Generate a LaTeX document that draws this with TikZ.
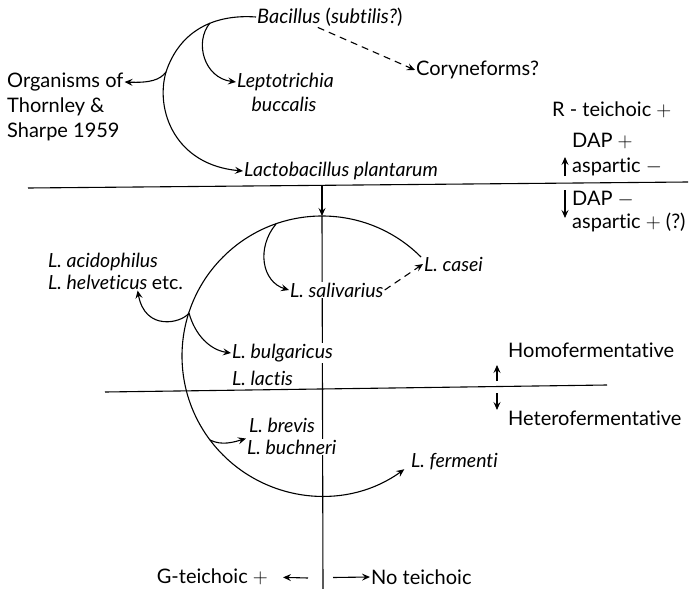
\documentclass[tikz,border=0pt]{standalone}
\usepackage{fontspec}
\setmainfont{Lato}[Ligatures={NoCommon}]
\usetikzlibrary{arrows.meta,backgrounds}

\begin{document}
\begin{tikzpicture}[x=1pt, y=-1pt]
\tikzstyle{lbl}=[inner sep=1pt, font=\fontsize{20}{25}\selectfont]
\tikzstyle{spec}=[lbl, font=\fontsize{19.5}{22}\selectfont\itshape]
\tikzstyle{gap}=[fill=white]
\tikzstyle{edgestyle}=[line width=1.1pt]
\tikzstyle{arr}=[edgestyle, -{Stealth[length=8pt, width=7pt, inset=3pt]}]
\tikzstyle{dasharr}=[arr, dash pattern=on 7pt off 5pt]
\useasboundingbox (0,0) rectangle (691,589);

% top part
\node[lbl, anchor=west] (bac) at (256,17) {\textit{Bacillus} (\textit{subtilis?})};
\node[lbl, anchor=west] (cory) at (415,70) {Coryneforms?};
\node[lbl, anchor=west, align=left] (org) at (6,107) {Organisms of\\Thornley \&\\Sharpe 1959};
\node[spec, anchor=west] (lep) at (236,82) {Leptotrichia};
\node[spec] (buc) at (284,104) {buccalis};
\node[spec, anchor=west] (lpl) at (243,171) {Lactobacillus plantarum};
\coordinate (jlep) at (210,23);
\coordinate (jorg) at (166,72);
\draw[arr] (bac.west) .. controls (215,14) and (180,30) .. (jorg)
  .. controls (155,110) and (175,165) .. (lpl.west);
\draw[arr] (jlep) .. controls (194,42) and (204,78) .. (lep.west);
\draw[arr] (jorg) .. controls (160,80) and (150,83) .. ([yshift=25pt]org.east);
\draw[dasharr] ([xshift=-12pt]bac.south) -- (cory.west);

% right hand labels
\node[lbl, anchor=west] (rtei) at (551,110) {R - teichoic $+$};
\node[lbl, anchor=west, align=left] (dapp) at (571,155) {DAP $+$\\aspartic $-$};
\node[lbl, anchor=west, align=left, font=\fontsize{20}{23}\selectfont] (dapm) at (571,212) {DAP $-$\\aspartic $+$ (?)};
\coordinate (up0) at (565,176);
\coordinate (up1) at (565,157);
\coordinate (dn0) at (565,190);
\coordinate (dn1) at (565,218);
\draw[arr] (up0) -- (up1);
\draw[arr] (dn0) -- (dn1);

\node[lbl, anchor=west] (homo) at (507,350) {Homofermentative};
\node[lbl, anchor=west] (hetero) at (507,418) {Heterofermentative};
\coordinate (hup0) at (497,381);
\coordinate (hup1) at (497,365);
\coordinate (hdn0) at (497,393);
\coordinate (hdn1) at (497,410);
\draw[arr] (hup0) -- (hup1);
\draw[arr] (hdn0) -- (hdn1);

% dividing lines
\coordinate (h1l) at (28,188);
\coordinate (h1r) at (688,182);
\coordinate (h2l) at (105,392);
\coordinate (h2r) at (607,385);
\draw[edgestyle] (h1l) -- (h1r);
\draw[edgestyle] (h2l) -- (h2r);

% species round the circle
\node[spec, anchor=west] (lcas) at (423,264) {L. casei};
\node[spec, gap, anchor=west] (lsal) at (289,290) {L. salivarius};
\node[spec, anchor=west, align=left] (lacid) at (47,271) {L. acidophilus\\L. helveticus \upshape etc.};
\node[spec, gap, anchor=west] (lbul) at (231,353) {L. bulgaricus};
\node[spec, anchor=west] (llac) at (231,378) {L. lactis};
\node[spec, anchor=west] (lbrev) at (248,425) {L. brevis};
\node[spec, gap, anchor=west] (lbuch) at (246,447) {L. buchneri};
\node[spec, anchor=west] (lferm) at (410,462) {L. fermenti};

\coordinate (vtop) at (322,186);
\coordinate (ctop) at (322,216);
\coordinate (vbot) at (323,589);
\coordinate (ccas) at (421,257);
\coordinate (jsal) at (276,224);
\coordinate (jacid) at (189,313);
\coordinate (jbuch) at (210,440);
\begin{scope}[on background layer]
\draw[edgestyle] (ctop) -- (vbot);
\end{scope}
\draw[arr] (vtop) -- (ctop);
\draw[arr] (ccas) arc[start angle=-45, end angle=-306, radius=140];
\draw[arr] (jsal) .. controls (256,248) and (262,282) .. (lsal.west);
\draw[arr] (jacid) .. controls (182,323) and (145,332) .. ([xshift=22pt]lacid.south);
\draw[arr] (jacid) .. controls (195,335) and (210,350) .. (lbul.west);
\draw[arr] (jbuch) .. controls (222,446) and (234,442) .. (lbuch.north west);
\draw[dasharr] (lsal.east) -- (lcas.west);

% bottom
\node[lbl, anchor=east] (gtei) at (269,577) {G-teichoic $+$};
\node[lbl, anchor=west] (notei) at (370,577) {No teichoic};
\coordinate (gl) at (308,578);
\coordinate (nl) at (333,577.5);
\draw[arr, shorten >=14pt] (gl) -- (gtei.east);
\draw[arr] (nl) -- (notei.west);
\end{tikzpicture}
\end{document}
